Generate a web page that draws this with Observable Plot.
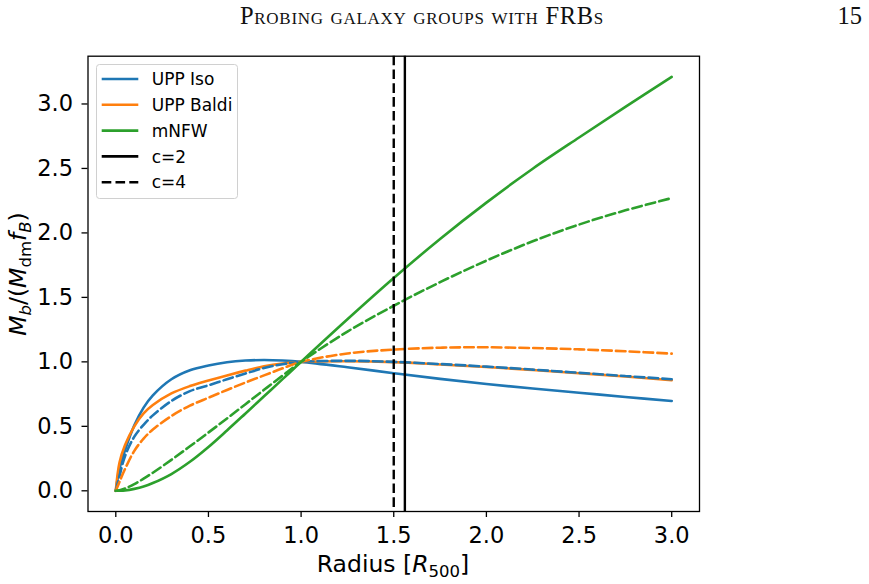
<!DOCTYPE html>
<html>
<head>
<meta charset="utf-8">
<script src="https://cdn.jsdelivr.net/npm/d3@7"></script>
<script src="https://cdn.jsdelivr.net/npm/@observablehq/plot@0.6"></script>
<style>
  body { margin: 0; background: #fff; }
  #page { position: relative; width: 869px; height: 584px; overflow: hidden; background: #fff; }
  #header { position: relative; height: 40px; font-family: "Liberation Serif", "DejaVu Serif", serif; color: #111; }
  #running { position: absolute; left: 0; width: 844px; top: 2px; text-align: center; font-size: 24.5px; letter-spacing: 0.7px; font-variant: small-caps; }
  #folio { position: absolute; right: 7px; top: 2px; font-size: 24.5px; }
  #chart svg { display: block; }
</style>
</head>
<body>
<div id="page">
  <div id="header">
    <div id="running">Probing galaxy groups with FRBs</div>
    <div id="folio">15</div>
  </div>
  <div id="chart"></div>
</div>
<script>
// Sampled radii (in units of R500) shared by every profile
const radius = [0, 0.02, 0.05, 0.1, 0.15, 0.2, 0.3, 0.4, 0.5, 0.6, 0.7, 0.8, 0.9, 1.0, 1.25, 1.5, 1.75, 2.0, 2.25, 2.5, 2.75, 3.0];

// Baryon-to-dark-matter mass ratio, normalised by the cosmic fraction, for concentration c=2
const uppIsoC2   = [0, 0.17, 0.315, 0.508, 0.645, 0.74, 0.865, 0.935, 0.972, 0.997, 1.01, 1.014, 1.01, 1.0, 0.958, 0.912, 0.868, 0.828, 0.793, 0.761, 0.728, 0.697];
const uppBaldiC2 = [0, 0.22, 0.355, 0.5, 0.6, 0.665, 0.755, 0.812, 0.855, 0.895, 0.932, 0.965, 0.987, 1.0, 1.005, 0.998, 0.98, 0.96, 0.937, 0.912, 0.886, 0.858];
const mnfwC2     = [0, 0.0005, 0.003, 0.015, 0.033, 0.06, 0.13, 0.225, 0.34, 0.468, 0.6, 0.733, 0.866, 1.0, 1.33, 1.65, 1.953, 2.235, 2.498, 2.74, 2.977, 3.21];

// Same profiles for concentration c=4
const uppIsoC4   = [0, 0.115, 0.27, 0.42, 0.512, 0.585, 0.697, 0.773, 0.818, 0.865, 0.91, 0.952, 0.982, 1.0, 1.008, 1.0, 0.983, 0.963, 0.94, 0.915, 0.89, 0.865];
const uppBaldiC4 = [0, 0.07, 0.17, 0.31, 0.405, 0.475, 0.58, 0.66, 0.722, 0.782, 0.84, 0.895, 0.95, 1.0, 1.065, 1.095, 1.11, 1.113, 1.107, 1.097, 1.082, 1.064];
const mnfwC4     = [0, 0.004, 0.018, 0.052, 0.094, 0.14, 0.24, 0.345, 0.452, 0.561, 0.672, 0.783, 0.893, 1.0, 1.235, 1.435, 1.618, 1.785, 1.935, 2.065, 2.175, 2.27];

const modelNames = ["UPP Iso", "UPP Baldi", "mNFW"];
const concentrationLabels = ["c=2", "c=4"];
// Radius at which each concentration's reference radius sits
const concentrationRadius = [1.56, 1.5];

const xTicks = [0, 0.5, 1.0, 1.5, 2.0, 2.5, 3.0];
const yTicks = [0, 0.5, 1.0, 1.5, 2.0, 2.5, 3.0];

// Long-format table: one row per (model, concentration, radius)
const profiles = [
  [uppIsoC2, uppBaldiC2, mnfwC2],
  [uppIsoC4, uppBaldiC4, mnfwC4]
];
const rows = [];
profiles.forEach((set, ci) => set.forEach((values, mi) => values.forEach((v, k) => {
  rows.push({model: modelNames[mi], conc: concentrationLabels[ci], r: radius[k], ratio: v});
})));

const palette = ["#1f77b4", "#ff7f0e", "#2ca02c"];
const dash = "9.6,4.2";
const lw = 2.6;

const curveMarks = [];
concentrationLabels.forEach((c, ci) => modelNames.forEach((m, mi) => {
  curveMarks.push(Plot.line(rows.filter(d => d.model === m && d.conc === c), {
    x: "r", y: "ratio",
    stroke: palette[mi],
    strokeWidth: lw,
    strokeDasharray: ci === 0 ? null : dash,
    curve: "catmull-rom"
  }));
}));

const chart = Plot.plot({
  width: 869,
  height: 544,
  marginTop: 15.7,
  marginBottom: 73,
  marginLeft: 87.5,
  marginRight: 170,
  style: {fontFamily: "DejaVu Sans", fontSize: "22px", color: "#000", background: "#fff", overflow: "visible"},
  x: {domain: [-0.15, 3.15], label: null},
  y: {domain: [-0.1605, 3.3705], label: null},
  marks: [
    ...curveMarks,
    Plot.ruleX([concentrationRadius[0]], {stroke: "#000", strokeWidth: 2.4}),
    Plot.ruleX([concentrationRadius[1]], {stroke: "#000", strokeWidth: 2.4, strokeDasharray: dash}),
    Plot.frame({stroke: "#000", strokeWidth: 1.3}),
    Plot.axisX(xTicks, {tickSize: 6, tickPadding: 10, strokeWidth: 1.3, fontSize: 22.5, tickFormat: d => d.toFixed(1), label: null}),
    Plot.axisY(yTicks, {tickSize: 6, tickPadding: 9, strokeWidth: 1.3, fontSize: 22.5, tickFormat: d => d.toFixed(1), label: null})
  ]
});

document.getElementById("chart").appendChild(chart);

const svg = d3.select(chart);

// Axis titles with mathematical subscripts
const xl = svg.append("text")
  .attr("x", 393).attr("y", 532)
  .attr("text-anchor", "middle")
  .attr("font-family", "DejaVu Sans").attr("font-size", 23.5).attr("fill", "#000");
xl.append("tspan").text("Radius [");
xl.append("tspan").attr("font-style", "italic").text("R");
xl.append("tspan").attr("font-size", 16.5).attr("dy", 5).text("500");
xl.append("tspan").attr("dy", -5).text("]");

const yl = svg.append("text")
  .attr("transform", "translate(26,234) rotate(-90)")
  .attr("text-anchor", "middle")
  .attr("font-family", "DejaVu Sans").attr("font-size", 23.5).attr("fill", "#000");
yl.append("tspan").attr("font-style", "italic").text("M");
yl.append("tspan").attr("font-style", "italic").attr("font-size", 16.5).attr("dy", 5).text("b");
yl.append("tspan").attr("dy", -5).text("/(");
yl.append("tspan").attr("font-style", "italic").text("M");
yl.append("tspan").attr("font-size", 16.5).attr("dy", 5).text("dm");
yl.append("tspan").attr("font-style", "italic").attr("dy", -5).text("f");
yl.append("tspan").attr("font-style", "italic").attr("font-size", 16.5).attr("dy", 5).text("B");
yl.append("tspan").attr("dy", -5).text(")");

// Legend
const legendEntries = [
  ...modelNames.map((name, i) => ({name, color: palette[i], dashed: false})),
  ...concentrationLabels.map((name, i) => ({name, color: "#000", dashed: i === 1}))
];
const leg = svg.append("g")
  .attr("font-family", "DejaVu Sans").attr("font-size", 17)
  .attr("text-anchor", "start");
leg.append("rect")
  .attr("x", 96.5).attr("y", 24.5).attr("width", 141).attr("height", 134).attr("rx", 3)
  .attr("fill", "#fff").attr("fill-opacity", 0.8).attr("stroke", "#d0d0d0").attr("stroke-width", 1);
legendEntries.forEach((e, i) => {
  const y = 39 + i * 25.8;
  leg.append("line")
    .attr("x1", 101.7).attr("x2", 138.3).attr("y1", y).attr("y2", y)
    .attr("stroke", e.color).attr("stroke-width", lw)
    .attr("stroke-dasharray", e.dashed ? dash : null);
  leg.append("text")
    .attr("x", 151.7).attr("y", y).attr("dy", "0.36em")
    .attr("text-anchor", "start").attr("fill", "#000")
    .text(e.name);
});
</script>
</body>
</html>
